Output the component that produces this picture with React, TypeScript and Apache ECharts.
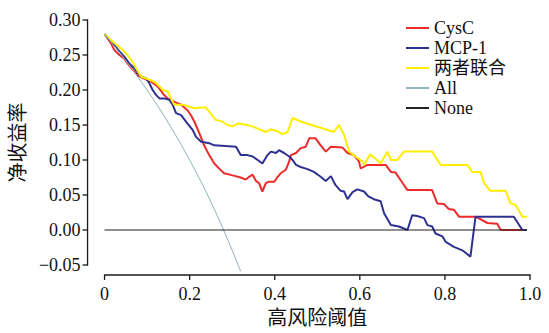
import React, { useEffect, useRef } from "react";
import * as echarts from "echarts";

const legendNames = ["CysC", "MCP-1", "两者联合", "All", "None"];
const xTicks = [0, 0.2, 0.4, 0.6, 0.8, 1.0];
const yTicks = [-0.05, 0, 0.05, 0.1, 0.15, 0.2, 0.25, 0.3];

const cysc: [number, number][] = [
  [0, 0.28], [0.015, 0.267], [0.023, 0.257], [0.035, 0.25], [0.046, 0.245], [0.054, 0.238],
  [0.066, 0.229], [0.078, 0.221], [0.09, 0.217], [0.109, 0.212], [0.121, 0.207], [0.129, 0.202],
  [0.137, 0.195], [0.148, 0.188], [0.164, 0.183], [0.18, 0.179], [0.195, 0.171], [0.203, 0.164],
  [0.211, 0.155], [0.223, 0.138], [0.234, 0.121], [0.246, 0.107], [0.258, 0.095], [0.269, 0.088],
  [0.281, 0.081], [0.301, 0.078], [0.32, 0.075], [0.332, 0.072], [0.34, 0.076], [0.348, 0.079],
  [0.356, 0.07], [0.363, 0.067], [0.371, 0.055], [0.379, 0.067], [0.387, 0.069], [0.399, 0.069],
  [0.407, 0.076], [0.414, 0.081], [0.426, 0.086], [0.434, 0.098], [0.438, 0.107], [0.45, 0.11],
  [0.461, 0.117], [0.473, 0.119], [0.481, 0.131], [0.496, 0.131], [0.508, 0.121], [0.52, 0.112],
  [0.532, 0.119], [0.559, 0.118], [0.571, 0.11], [0.586, 0.107], [0.598, 0.098], [0.602, 0.088],
  [0.618, 0.093], [0.661, 0.093], [0.673, 0.083], [0.684, 0.082], [0.696, 0.071], [0.712, 0.057],
  [0.77, 0.057], [0.782, 0.038], [0.798, 0.037], [0.809, 0.03], [0.821, 0.029], [0.833, 0.019],
  [0.872, 0.019], [0.9, 0.01], [0.923, 0.009], [0.931, 0.0], [0.98, 0.0],
];

const mcp1: [number, number][] = [
  [0, 0.28], [0.023, 0.264], [0.035, 0.255], [0.046, 0.248], [0.058, 0.238], [0.07, 0.231],
  [0.078, 0.224], [0.086, 0.219], [0.097, 0.217], [0.105, 0.21], [0.113, 0.2], [0.121, 0.193],
  [0.129, 0.188], [0.14, 0.188], [0.152, 0.186], [0.16, 0.179], [0.168, 0.167], [0.18, 0.164],
  [0.195, 0.152], [0.207, 0.143], [0.215, 0.133], [0.227, 0.126], [0.246, 0.124], [0.258, 0.121],
  [0.309, 0.119], [0.32, 0.107], [0.336, 0.107], [0.348, 0.105], [0.36, 0.1], [0.371, 0.095],
  [0.383, 0.107], [0.391, 0.112], [0.403, 0.11], [0.41, 0.114], [0.422, 0.11], [0.434, 0.105],
  [0.442, 0.1], [0.45, 0.093], [0.461, 0.09], [0.477, 0.087], [0.492, 0.083], [0.508, 0.076],
  [0.52, 0.07], [0.532, 0.077], [0.543, 0.064], [0.555, 0.056], [0.563, 0.055], [0.571, 0.044],
  [0.583, 0.054], [0.594, 0.058], [0.61, 0.055], [0.62, 0.048], [0.633, 0.044], [0.649, 0.041],
  [0.657, 0.024], [0.673, 0.007], [0.692, 0.005], [0.712, 0.0], [0.723, 0.021], [0.735, 0.02],
  [0.751, 0.017], [0.759, 0.007], [0.77, 0.005], [0.778, -0.005], [0.794, -0.009], [0.802, -0.017],
  [0.821, -0.024], [0.841, -0.029], [0.86, -0.038], [0.872, 0.019], [0.962, 0.019], [0.982, 0.0],
  [0.993, 0.0],
];

const combined: [number, number][] = [
  [0, 0.28], [0.023, 0.267], [0.043, 0.257], [0.054, 0.25], [0.066, 0.24], [0.074, 0.231],
  [0.086, 0.219], [0.109, 0.214], [0.121, 0.21], [0.137, 0.2], [0.148, 0.198], [0.156, 0.188],
  [0.164, 0.179], [0.184, 0.179], [0.195, 0.177], [0.211, 0.174], [0.227, 0.175], [0.238, 0.175],
  [0.246, 0.169], [0.262, 0.157], [0.277, 0.155], [0.289, 0.15], [0.301, 0.148], [0.313, 0.152],
  [0.328, 0.151], [0.348, 0.148], [0.367, 0.143], [0.379, 0.14], [0.391, 0.144], [0.407, 0.141],
  [0.418, 0.137], [0.43, 0.14], [0.442, 0.16], [0.461, 0.155], [0.539, 0.14], [0.551, 0.15],
  [0.563, 0.136], [0.575, 0.112], [0.59, 0.105], [0.606, 0.098], [0.61, 0.093], [0.624, 0.108],
  [0.637, 0.102], [0.649, 0.095], [0.665, 0.112], [0.673, 0.1], [0.688, 0.1], [0.704, 0.112],
  [0.77, 0.112], [0.79, 0.093], [0.853, 0.093], [0.864, 0.083], [0.884, 0.083], [0.892, 0.067],
  [0.907, 0.056], [0.943, 0.056], [0.954, 0.038], [0.966, 0.036], [0.982, 0.019], [0.993, 0.019],
];

const allTreat: [number, number][] = [
  [0, 0.28], [0.02, 0.265], [0.04, 0.25], [0.06, 0.234], [0.08, 0.217], [0.1, 0.2],
  [0.12, 0.182], [0.14, 0.163], [0.16, 0.143], [0.18, 0.122], [0.2, 0.1], [0.22, 0.077],
  [0.24, 0.053], [0.26, 0.027], [0.28, 0.0], [0.3, -0.029], [0.32, -0.059],
];

const noneTreat: [number, number][] = [
  [0, 0], [0.993, 0],
];

const FONT = "Liberation Serif, Noto Sans CJK SC, serif";
const TEXT_COLOR = "#111111";
const AXIS_COLOR = "#1a1a1a";
const Y_OFFSET = 17;
const X_OFFSET = 10;
const TICK_LEN = 5;
const LW = 1.3;

export default function App() {
  const ref = useRef<HTMLDivElement>(null);
  useEffect(() => {
    if (!ref.current) return;
    const chart = echarts.init(ref.current, undefined, { renderer: "svg" });
    const line = (name: string, data: [number, number][], color: string, width: number, extra: any = {}) => ({
      name,
      type: "line",
      data,
      symbol: "none",
      showSymbol: false,
      lineStyle: { color, width },
      itemStyle: { color },
      emphasis: { disabled: true },
      ...extra,
    });
    chart.setOption({
      animation: false,
      backgroundColor: "#ffffff",
      textStyle: { fontFamily: FONT },
      grid: { left: 104, right: 19, top: 20, bottom: 68, containLabel: false },
      legend: {
        orient: "vertical",
        left: 400,
        top: 14,
        itemWidth: 23,
        itemHeight: 14,
        itemGap: 2,
        data: legendNames,
        itemStyle: { opacity: 0 },
        textStyle: { fontSize: 18, color: TEXT_COLOR, fontFamily: FONT },
      },
      xAxis: {
        type: "value",
        min: 0,
        max: 1,
        interval: 0.2,
        offset: X_OFFSET,
        name: "高风险阈值",
        nameLocation: "middle",
        nameGap: 33,
        nameTextStyle: { fontSize: 20, color: TEXT_COLOR, fontFamily: FONT },
        axisLine: { show: false, onZero: false },
        axisTick: { show: false },
        axisLabel: {
          fontSize: 18,
          color: TEXT_COLOR,
          margin: 10,
          fontFamily: FONT,
          formatter: (v: number) => {
            const t = xTicks.find((x) => Math.abs(x - v) < 1e-9);
            if (t === undefined) return "";
            return t === 0 ? "0" : t.toFixed(1);
          },
        },
        splitLine: { show: false },
      },
      yAxis: {
        type: "value",
        min: -0.05,
        max: 0.3,
        interval: 0.05,
        offset: Y_OFFSET,
        name: "净收益率",
        nameLocation: "middle",
        nameGap: 57,
        nameTextStyle: { fontSize: 20, color: TEXT_COLOR, fontFamily: FONT },
        axisLine: { show: false, onZero: false },
        axisTick: { show: false },
        axisLabel: {
          fontSize: 18,
          color: TEXT_COLOR,
          margin: 7,
          fontFamily: FONT,
          formatter: (v: number) => (v < -1e-9 ? "\u2212" + Math.abs(v).toFixed(2) : Math.abs(v).toFixed(2)),
        },
        splitLine: { show: false },
      },
      series: [
        line("CysC", cysc, "#ee2b2b", 2),
        line("MCP-1", mcp1, "#2e3192", 2),
        line("两者联合", combined, "#ffee00", 2),
        line("All", allTreat, "#8fb4bd", 1, { clip: false }),
        line("None", noneTreat, "#222222", 1),
      ],
    });

    // Axis lines and ticks as thin rects, placed through the chart's own scales
    const px = (v: number) => Number(chart.convertToPixel({ xAxisIndex: 0 }, v));
    const py = (v: number) => Number(chart.convertToPixel({ yAxisIndex: 0 }, v));
    const yAxisX = px(0) - Y_OFFSET;
    const xAxisY = py(yTicks[0]) + X_OFFSET;
    const rect = (x: number, y: number, w: number, h: number) => ({
      type: "rect",
      silent: true,
      z: 100,
      shape: { x, y, width: w, height: h },
      style: { fill: AXIS_COLOR },
    });
    const yTop = py(yTicks[yTicks.length - 1]);
    const yBot = py(yTicks[0]);
    const xL = px(xTicks[0]);
    const xR = px(xTicks[xTicks.length - 1]);
    const elems: any[] = [
      rect(yAxisX - LW / 2, yTop - LW / 2, LW, yBot - yTop + LW),
      rect(xL - LW / 2, xAxisY - LW / 2, xR - xL + LW, LW),
    ];
    yTicks.forEach((t) => {
      const y = py(t);
      elems.push(rect(yAxisX - TICK_LEN, y - LW / 2, TICK_LEN, LW));
    });
    xTicks.forEach((t) => {
      const x = px(t);
      elems.push(rect(x - LW / 2, xAxisY, LW, TICK_LEN));
    });
    chart.setOption({ graphic: { elements: elems } });

    return () => chart.dispose();
  }, []);
  return <div ref={ref} style={{ position: "fixed", left: 0, top: 0, width: 549, height: 333 }} />;
}
